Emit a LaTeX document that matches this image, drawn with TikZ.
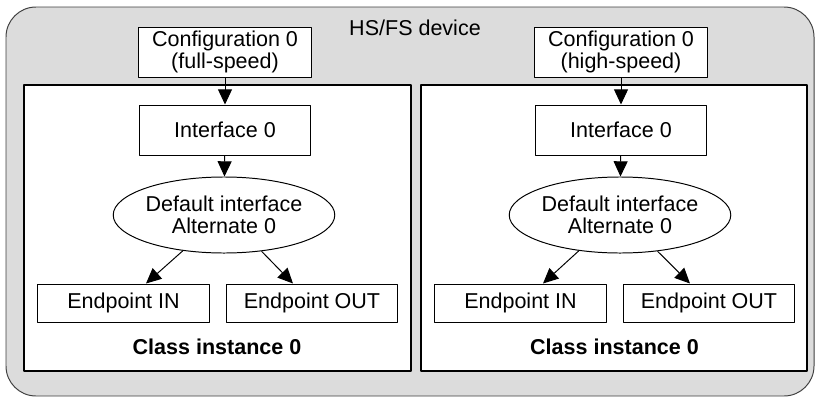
\documentclass[tikz,border=0pt]{standalone}
\usepackage{fontspec}
\setmainfont{Liberation Sans}
\usetikzlibrary{arrows.meta,shapes.geometric,calc}
\definecolor{devgray}{HTML}{DCDCDC}
\definecolor{rimgray}{HTML}{404040}
\begin{document}
\begin{tikzpicture}[x=0.025cm, y=-0.025cm, font=\fontsize{15.3}{16}\selectfont, line join=round, >={Triangle[length=0.38cm,width=0.35cm]}]
			\tikzset{
				box/.style={draw, fill=white, line width=0.7pt, inner sep=0pt, align=center},
				oval/.style={box, ellipse, minimum width=4.9cm, minimum height=1.9cm},
				link/.style={->, line width=0.7pt}
			}
			\useasboundingbox (0,0) rectangle (815,402);
			% device and the two class instances
			\draw [fill=devgray, draw=rimgray, line width=0.7pt, rounded corners=0.75cm] (6,7) rectangle (814,396);
			\draw [fill=white, line width=1.8pt] (24,85) rectangle (411,371);
			\draw [fill=white, line width=1.8pt] (421,85) rectangle (807,371);
			\node (D) at (415,28) {HS/FS device};
			% left half
			\node [box, minimum width=4.33cm, minimum height=1.25cm] (CL) at (225,52) {Configuration 0\\(full-speed)};
			\node [box, minimum width=4.28cm, minimum height=1.25cm] (IL) at (225,130) {Interface 0};
			\node [oval] (EL) at (224,215) {Default interface\\Alternate 0};
			\node [box, minimum width=4.28cm, minimum height=0.95cm] (INL) at (123.5,303) {Endpoint IN};
			\node [box, minimum width=4.28cm, minimum height=0.95cm] (OUTL) at (312,303) {Endpoint OUT};
			\node [font=\fontsize{15.3}{16}\selectfont\bfseries] (KL) at (217,347) {Class instance 0};
			\draw [link] (CL) -- (IL);
			\draw [link] (IL) -- (EL);
			\draw [link] (EL.221) -- ($(INL.north)+(22.5,0)$);
			\draw [link] (EL.316) -- ($(OUTL.north)+(-19,0)$);
			% right half
			\node [box, minimum width=4.33cm, minimum height=1.25cm] (CR) at (621,52) {Configuration 0\\(high-speed)};
			\node [box, minimum width=4.28cm, minimum height=1.25cm] (IR) at (621,130) {Interface 0};
			\node [oval] (ER) at (620,215) {Default interface\\Alternate 0};
			\node [box, minimum width=4.28cm, minimum height=0.95cm] (INR) at (520.5,303) {Endpoint IN};
			\node [box, minimum width=4.28cm, minimum height=0.95cm] (OUTR) at (709,303) {Endpoint OUT};
			\node [font=\fontsize{15.3}{16}\selectfont\bfseries] (KR) at (614.5,347) {Class instance 0};
			\draw [link] (CR) -- (IR);
			\draw [link] (IR) -- (ER);
			\draw [link] (ER.221) -- ($(INR.north)+(22.5,0)$);
			\draw [link] (ER.316) -- ($(OUTR.north)+(-19,0)$);
		\end{tikzpicture}
\end{document}
